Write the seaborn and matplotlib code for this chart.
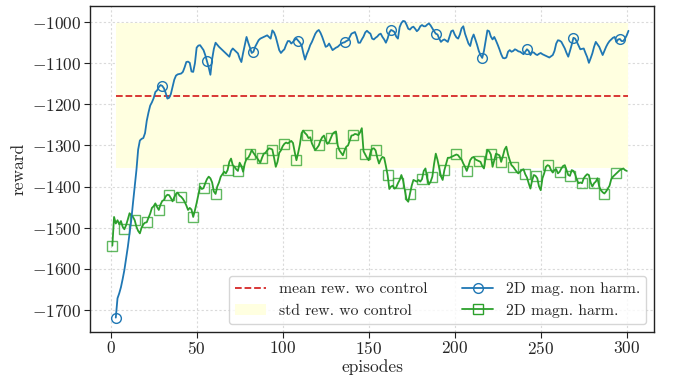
import numpy as np
import matplotlib
matplotlib.use("Agg")
import matplotlib.pyplot as plt
import seaborn as sns
from matplotlib.lines import Line2D
from matplotlib.patches import Patch

# ---------------- data ----------------
blue_start = 3
blue_vals = [
    -1719, -1672, -1660, -1645, -1625, -1603, -1575, -1547, -1515, -1482,
    -1440, -1401, -1360, -1310, -1288, -1284, -1282, -1270, -1240, -1220,
    -1203, -1195, -1185, -1170, -1166, -1158, -1153, -1155, -1161, -1172,
    -1186, -1184, -1175, -1157, -1140, -1130, -1127, -1126, -1125, -1121,
    -1110, -1097, -1096, -1099, -1120, -1121, -1100, -1062, -1057, -1056,
    -1062, -1068, -1080, -1095, -1110, -1128, -1090, -1065, -1050, -1055,
    -1060, -1064, -1068, -1072, -1076, -1080, -1084, -1070, -1064, -1068,
    -1072, -1076, -1088, -1097, -1075, -1055, -1036, -1050, -1062, -1075,
    -1072, -1060, -1052, -1044, -1040, -1038, -1036, -1034, -1032, -1036,
    -1040, -1020, -1025, -1036, -1052, -1068, -1075, -1070, -1066, -1055,
    -1046, -1046, -1052, -1048, -1043, -1040, -1045, -1050, -1056, -1075,
    -1091, -1078, -1068, -1056, -1048, -1038, -1028, -1022, -1019, -1026,
    -1036, -1048, -1060, -1058, -1052, -1060, -1068, -1065, -1062, -1060,
    -1056, -1052, -1050, -1049, -1046, -1044, -1036, -1028, -1026, -1024,
    -1035, -1050, -1050, -1042, -1035, -1025, -1021, -1025, -1028, -1040,
    -1042, -1038, -1035, -1030, -1028, -1036, -1042, -1050, -1040, -1025,
    -1019, -1021, -1024, -1035, -1040, -1012, -1002, -997, -998, -1006,
    -1016, -1018, -1013, -1011, -1016, -1022, -1018, -1010, -1007, -1010,
    -1010, -1006, -1003, -1008, -1015, -1022, -1028, -1030, -1040, -1048,
    -1044, -1042, -1045, -1048, -1035, -1022, -1020, -1030, -1037, -1040,
    -1030, -1015, -1010, -1028, -1040, -1052, -1058, -1040, -1030, -1042,
    -1055, -1070, -1080, -1087, -1070, -1045, -1020, -1022, -1035, -1042,
    -1036, -1045, -1055, -1066, -1078, -1087, -1088, -1086, -1072, -1068,
    -1072, -1070, -1066, -1068, -1071, -1072, -1075, -1078, -1072, -1066,
    -1070, -1080, -1073, -1074, -1078, -1080, -1077, -1075, -1078, -1080,
    -1082, -1084, -1086, -1083, -1080, -1070, -1052, -1044, -1045, -1048,
    -1056, -1064, -1075, -1084, -1070, -1055, -1038, -1040, -1048, -1057,
    -1066, -1065, -1064, -1075, -1085, -1099, -1088, -1076, -1060, -1048,
    -1054, -1060, -1070, -1080, -1070, -1060, -1052, -1046, -1042, -1038,
    -1036, -1048, -1042, -1041, -1046, -1046, -1040, -1032, -1021,
]

green_start = 1
green_vals = [
    -1544, -1474, -1490, -1482, -1492, -1484, -1498, -1504, -1494, -1480,
    -1465, -1470, -1474, -1482, -1498, -1508, -1514, -1500, -1492, -1488,
    -1487, -1476, -1466, -1452, -1448, -1441, -1450, -1457, -1444, -1435,
    -1433, -1424, -1420, -1421, -1428, -1436, -1426, -1418, -1415, -1422,
    -1425, -1430, -1437, -1446, -1457, -1452, -1456, -1474, -1458, -1440,
    -1420, -1400, -1406, -1404, -1392, -1382, -1376, -1380, -1390, -1412,
    -1418, -1400, -1390, -1376, -1370, -1364, -1368, -1360, -1340, -1332,
    -1348, -1352, -1358, -1362, -1342, -1350, -1364, -1344, -1332, -1330,
    -1322, -1311, -1318, -1324, -1330, -1336, -1342, -1330, -1320, -1318,
    -1312, -1307, -1308, -1310, -1330, -1352, -1340, -1318, -1312, -1302,
    -1296, -1293, -1295, -1292, -1289, -1294, -1316, -1336, -1318, -1298,
    -1270, -1264, -1270, -1274, -1282, -1280, -1295, -1304, -1311, -1306,
    -1300, -1288, -1280, -1276, -1288, -1296, -1292, -1282, -1272, -1268,
    -1266, -1300, -1312, -1318, -1324, -1312, -1303, -1300, -1288, -1276,
    -1275, -1272, -1273, -1275, -1268, -1258, -1314, -1322, -1330, -1336,
    -1318, -1308, -1307, -1312, -1330, -1344, -1334, -1328, -1330, -1350,
    -1372, -1406, -1400, -1398, -1405, -1402, -1392, -1384, -1372, -1385,
    -1408, -1432, -1437, -1418, -1398, -1384, -1386, -1388, -1384, -1388,
    -1382, -1362, -1356, -1380, -1395, -1388, -1376, -1345, -1320, -1335,
    -1355, -1375, -1384, -1360, -1345, -1330, -1330, -1328, -1326, -1324,
    -1322, -1324, -1330, -1334, -1344, -1352, -1362, -1350, -1336, -1330,
    -1328, -1334, -1336, -1338, -1340, -1350, -1356, -1330, -1311, -1314,
    -1322, -1352, -1336, -1320, -1322, -1324, -1340, -1326, -1310, -1303,
    -1322, -1336, -1348, -1352, -1358, -1364, -1368, -1364, -1360, -1358,
    -1370, -1378, -1392, -1405, -1385, -1372, -1374, -1380, -1400, -1409,
    -1380, -1368, -1352, -1348, -1350, -1360, -1366, -1360, -1358, -1368,
    -1364, -1356, -1350, -1348, -1360, -1372, -1374, -1360, -1362, -1370,
    -1384, -1392, -1390, -1392, -1380, -1374, -1370, -1372, -1390, -1400,
    -1392, -1388, -1380, -1400, -1409, -1414, -1417, -1412, -1405, -1398,
    -1382, -1376, -1372, -1368, -1364, -1360, -1358, -1356, -1360, -1362,
]

baseline_x = [3, 301]
baseline_mean = -1179
baseline_std = 176

x_ticks = [0, 50, 100, 150, 200, 250, 300]
y_ticks = [-1700, -1600, -1500, -1400, -1300, -1200, -1100, -1000]

labels = ["mean rew. wo control", "std rew. wo control",
          "2D mag. non harm.", "2D magn. harm."]

# ---------------- style ----------------
sns.set_theme(style="whitegrid")
plt.rcParams.update({
    "font.family": "serif",
    "font.serif": ["cmr10", "DejaVu Serif"],
    "mathtext.fontset": "cm",
    "axes.formatter.use_mathtext": True,
    "axes.unicode_minus": True,
    "font.size": 11.5,
})

blue_x = np.arange(blue_start, blue_start + len(blue_vals))
green_x = np.arange(green_start, green_start + len(green_vals))

fig = plt.figure(figsize=(6.75, 3.75), dpi=100)
ax = fig.add_axes([0.1333, 0.1147, 0.836, 0.870])

c_blue = "#1f77b4"
c_green = "#2ca02c"
c_red = "#d62728"
c_band = "#ffffe0"

bx = np.array(baseline_x, dtype=float)
ax.fill_between(bx, baseline_mean - baseline_std, baseline_mean + baseline_std,
                color=c_band, lw=0, zorder=1)
ax.plot(bx, [baseline_mean, baseline_mean], ls="--", color=c_red, lw=1.3, zorder=2)

blue_marks = [int(round(i * 26.6)) for i in range(12)]
green_marks = [int(round(i * 6.66)) for i in range(45)]

sns.lineplot(x=blue_x, y=blue_vals, ax=ax, color=c_blue, lw=1.3,
             marker="o", markersize=7, markerfacecolor="none",
             markeredgecolor=c_blue, markeredgewidth=1.0,
             markevery=blue_marks, zorder=4)
sns.lineplot(x=green_x, y=green_vals, ax=ax, color=c_green, lw=1.3,
             marker="s", markersize=6.5, markerfacecolor="none",
             markeredgecolor=(0.17, 0.63, 0.17, 0.75), markeredgewidth=1.0,
             markevery=green_marks, zorder=3)

ax.set_xlim(-12, 316)
ax.set_ylim(-1754, -960)
ax.set_xticks(x_ticks)
ax.set_yticks(y_ticks)
ax.set_xlabel("episodes", fontsize=12.5, labelpad=1)
ax.set_ylabel("reward", fontsize=12.5, labelpad=4)

ax.grid(True, color="#dadada", ls=(0, (2, 2)), lw=0.8)
for s in ax.spines.values():
    s.set_color("#222222")
    s.set_linewidth(1.0)
ax.tick_params(axis="both", which="both", length=4, width=0.8, color="#222222",
               labelsize=12.5, bottom=True, left=True, pad=2)

handles = [
    Line2D([], [], ls="--", color=c_red, lw=1.3),
    Patch(facecolor=c_band, edgecolor="none"),
    Line2D([], [], color=c_blue, lw=1.3, marker="o", markerfacecolor="none",
           markeredgecolor=c_blue, markersize=7),
    Line2D([], [], color=c_green, lw=1.3, marker="s", markerfacecolor="none",
           markeredgecolor=c_green, markersize=6.5),
]
leg = ax.legend(handles, labels, loc="lower right", ncol=2, fontsize=11.3,
                frameon=True, handlelength=2.0, columnspacing=2.2)
leg.get_frame().set_edgecolor("#cccccc")

fig.savefig("out.png", dpi=100)
